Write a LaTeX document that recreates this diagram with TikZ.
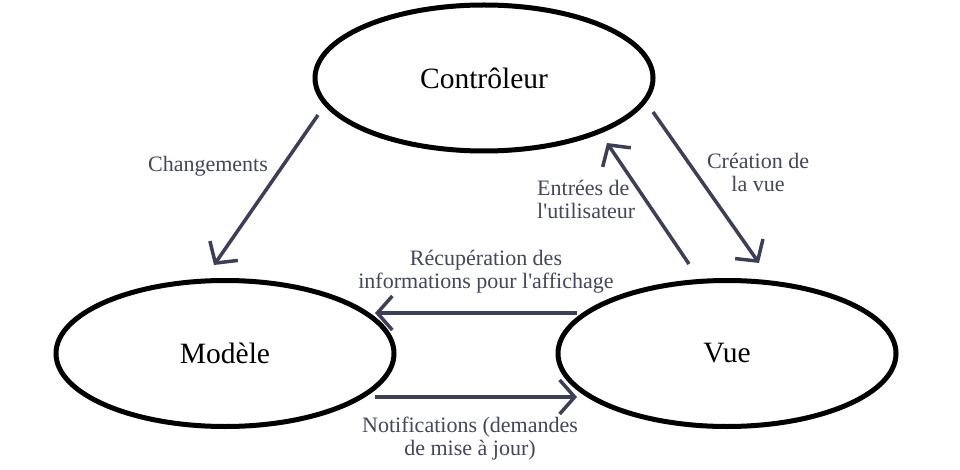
\documentclass[tikz,border=0pt]{standalone}
\usepackage{fontspec}
\setmainfont{Liberation Serif}
\usetikzlibrary{arrows.meta,shapes.geometric}
\definecolor{arr}{HTML}{3B3F57}
\definecolor{lbl}{HTML}{43465C}
\tikzset{
  comp/.style={ellipse, draw=black, line width=5pt, minimum width=338pt, minimum height=146pt, inner sep=0pt, font=\fontsize{29.5}{32}\selectfont},
  flow/.style={draw=arr, line width=3.5pt, -{Straight Barb[length=15pt,width=34pt]}},
  lab/.style={text=lbl, inner sep=0pt, align=center, font=\fontsize{22}{23}\selectfont}
}
\begin{document}
\begin{tikzpicture}[x=1pt,y=-1pt]
\useasboundingbox (0,0) rectangle (960,470);
\fill[white] (0,0) rectangle (960,470);
\node[comp] (ctrl) at (484,78) {Contrôleur};
\node[comp] (mod) at (225,353.5) {Modèle};
\node[comp] (vue) at (727,353.5) {Vue};
\coordinate (c1) at (318,115);
\coordinate (m1) at (214,265);
\coordinate (c2) at (653,112);
\coordinate (v2) at (759,263);
\coordinate (v3) at (689,264);
\coordinate (c3) at (607,143);
\coordinate (v4) at (577,313);
\coordinate (m4) at (375,313);
\coordinate (m5) at (375,397);
\coordinate (v5) at (577,397);
\draw[flow] (c1) -- (m1);
\draw[flow] (c2) -- (v2);
\draw[flow] (v3) -- (c3);
\draw[flow] (v4) -- (m4);
\draw[flow] (m5) -- (v5);
\node[lab, anchor=base] (l1) at (208,172) {Changements};
\node[lab] (l2) at (758,172) {Création de\\la vue};
\node[lab, align=left, anchor=west] (l3) at (537,199) {Entrées de\\l\textquotesingle utilisateur};
\node[lab] (l4) at (486,271.4) {Récupération des\\informations pour l\textquotesingle affichage};
\node[lab] (l5) at (470,438.3) {Notifications (demandes\\de mise à jour)};
\end{tikzpicture}
\end{document}
